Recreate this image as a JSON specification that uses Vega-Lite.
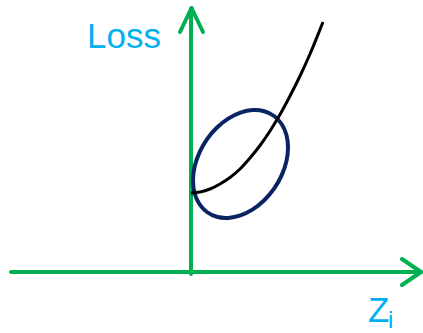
{
  "$schema": "https://vega.github.io/schema/vega-lite/v6.json",
  "width": 423,
  "height": 333,
  "padding": 0,
  "autosize": {"type": "none"},
  "background": "white",
  "config": {"view": {"stroke": null}},
  "datasets": {
    "axes": [
      {"x": -180, "y": 0, "x2": 229, "y2": 0},
      {"x": 0, "y": -2, "x2": 0, "y2": 263},
      {"x": 211, "y": 13, "x2": 230, "y2": 0},
      {"x": 211, "y": -13, "x2": 230, "y2": 0},
      {"x": -11, "y": 240, "x2": 0.5, "y2": 264},
      {"x": 12, "y": 240, "x2": 0.5, "y2": 264}
    ],
    "curve": [
      {"x": 0, "y": 79},
      {"x": 9, "y": 80},
      {"x": 19, "y": 83},
      {"x": 29, "y": 88},
      {"x": 39, "y": 94.5},
      {"x": 49, "y": 103},
      {"x": 59, "y": 114},
      {"x": 69, "y": 126.5},
      {"x": 79, "y": 141},
      {"x": 89, "y": 157.5},
      {"x": 99, "y": 176},
      {"x": 109, "y": 196},
      {"x": 119, "y": 218},
      {"x": 129, "y": 242.5},
      {"x": 132, "y": 250}
    ],
    "ellipse": [
      {"k": 0, "x": 97, "y": 124.5},
      {"k": 1, "x": 95.4, "y": 137.2},
      {"k": 2, "x": 90.6, "y": 148.0},
      {"k": 3, "x": 83.1, "y": 156.0},
      {"k": 4, "x": 73.25, "y": 160.8},
      {"k": 5, "x": 61.8, "y": 161.9},
      {"k": 6, "x": 49.5, "y": 159.4},
      {"k": 7, "x": 37.2, "y": 153.4},
      {"k": 8, "x": 25.75, "y": 144.3},
      {"k": 9, "x": 15.9, "y": 132.7},
      {"k": 10, "x": 8.4, "y": 119.4},
      {"k": 11, "x": 3.6, "y": 105.4},
      {"k": 12, "x": 2, "y": 91.5},
      {"k": 13, "x": 3.6, "y": 78.8},
      {"k": 14, "x": 8.4, "y": 68.0},
      {"k": 15, "x": 15.9, "y": 60.0},
      {"k": 16, "x": 25.75, "y": 55.2},
      {"k": 17, "x": 37.2, "y": 54.1},
      {"k": 18, "x": 49.5, "y": 56.6},
      {"k": 19, "x": 61.8, "y": 62.6},
      {"k": 20, "x": 73.25, "y": 71.7},
      {"k": 21, "x": 83.1, "y": 83.3},
      {"k": 22, "x": 90.6, "y": 96.6},
      {"k": 23, "x": 95.4, "y": 110.6}
    ],
    "bigText": [
      {"x": -104, "y": 224, "text": "Loss"},
      {"x": 177, "y": -50, "text": "Z"}
    ],
    "subText": [
      {"x": 197, "y": -60.5, "text": "i"}
    ]
  },
  "layer": [
    {
      "data": {"name": "axes"},
      "mark": {"type": "rule", "color": "#00b050", "strokeWidth": 4, "strokeCap": "round"},
      "encoding": {
        "x": {"field": "x", "type": "quantitative", "scale": {"domain": [-191, 232], "nice": false, "zero": false}, "axis": null},
        "y": {"field": "y", "type": "quantitative", "scale": {"domain": [-61, 272], "nice": false, "zero": false}, "axis": null},
        "x2": {"field": "x2"},
        "y2": {"field": "y2"}
      }
    },
    {
      "data": {"name": "ellipse"},
      "mark": {"type": "line", "color": "#0a2463", "strokeWidth": 4, "interpolate": "cardinal-closed"},
      "encoding": {
        "x": {"field": "x", "type": "quantitative", "scale": {"domain": [-191, 232], "nice": false, "zero": false}, "axis": null},
        "y": {"field": "y", "type": "quantitative", "scale": {"domain": [-61, 272], "nice": false, "zero": false}, "axis": null},
        "order": {"field": "k", "type": "quantitative"}
      }
    },
    {
      "data": {"name": "curve"},
      "mark": {"type": "line", "color": "#000000", "strokeWidth": 3, "interpolate": "monotone"},
      "encoding": {
        "x": {"field": "x", "type": "quantitative", "scale": {"domain": [-191, 232], "nice": false, "zero": false}, "axis": null},
        "y": {"field": "y", "type": "quantitative", "scale": {"domain": [-61, 272], "nice": false, "zero": false}, "axis": null}
      }
    },
    {
      "data": {"name": "bigText"},
      "mark": {"type": "text", "color": "#00b0f0", "font": "Liberation Sans", "fontSize": 35, "align": "left", "baseline": "alphabetic"},
      "encoding": {
        "x": {"field": "x", "type": "quantitative", "scale": {"domain": [-191, 232], "nice": false, "zero": false}, "axis": null},
        "y": {"field": "y", "type": "quantitative", "scale": {"domain": [-61, 272], "nice": false, "zero": false}, "axis": null},
        "text": {"field": "text"}
      }
    },
    {
      "data": {"name": "subText"},
      "mark": {"type": "text", "color": "#00b0f0", "font": "Liberation Sans", "fontSize": 24, "align": "left", "baseline": "bottom"},
      "encoding": {
        "x": {"field": "x", "type": "quantitative", "scale": {"domain": [-191, 232], "nice": false, "zero": false}, "axis": null},
        "y": {"field": "y", "type": "quantitative", "scale": {"domain": [-61, 272], "nice": false, "zero": false}, "axis": null},
        "text": {"field": "text"}
      }
    }
  ]
}
